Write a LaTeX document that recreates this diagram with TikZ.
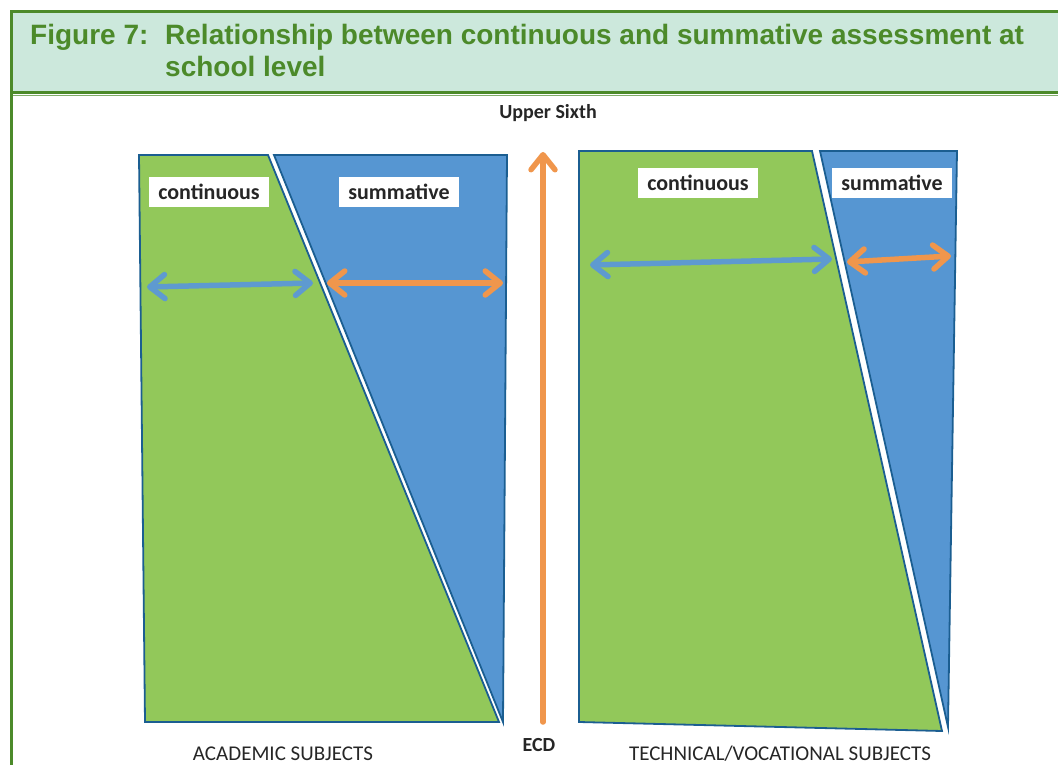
\documentclass[tikz,border=0pt]{standalone}
\usepackage{fontspec}
\setmainfont{Carlito}
\newfontfamily\titlefont{Liberation Sans}
\usetikzlibrary{arrows.meta}

\definecolor{framegreen}{HTML}{4C8A2A}
\definecolor{bandgreen}{HTML}{CCE8DC}
\definecolor{contgreen}{HTML}{92C85A}
\definecolor{summblue}{HTML}{5696D2}
\definecolor{edgeblue}{HTML}{1B5E91}
\definecolor{arrowblue}{HTML}{5E9AD0}
\definecolor{arroworange}{HTML}{F0964C}

\tikzset{
  panel/.style={draw=edgeblue,line width=1.8pt},
  tag/.style={fill=white,font=\bfseries\fontsize{22}{25}\selectfont,
    text=black!85,minimum width=120pt,minimum height=29pt,inner sep=0pt},
  span/.style={line width=5.5pt,line cap=round,
    {Straight Barb[round,length=15pt,width=24pt]}-{Straight Barb[round,length=15pt,width=24pt]}},
  caption/.style={font=\fontsize{21}{24}\selectfont,text=black!85},
  level/.style={font=\bfseries\fontsize{20}{23}\selectfont,text=black!85},
  heading/.style={font=\titlefont\bfseries\fontsize{28}{32}\selectfont,
    text=framegreen,inner sep=0pt,anchor=base west}
}

\begin{document}
\begin{tikzpicture}[x=1pt,y=-1pt]
  \useasboundingbox (0,0) rectangle (1058,765);

  % frame and title band
  \fill[bandgreen] (11,12) rectangle (1070,94);
  \draw[framegreen!70,line width=1pt] (11,95.5) -- (1070,95.5);
  \draw[framegreen,line width=3pt] (11,93) -- (1070,93);
  \draw[framegreen,line width=3pt] (11,800) -- (11,12) -- (1070,12);
  \node[heading] (fig) at (30,45) {Figure 7:};
  \node[heading] (title1) at (165,45) {Relationship between continuous and summative assessment at};
  \node[heading] (title2) at (165,77) {school level};

  % academic subjects
  \draw[panel,fill=contgreen] (139,155) -- (268,155) -- (499,722) -- (145,722) -- cycle;
  \draw[panel,fill=summblue] (274,155) -- (507,155) -- (503,722) -- cycle;
  \node[tag] (contL) at (209,192) {continuous};
  \node[tag] (summL) at (399,192) {summative};
  \coordinate (la) at (147,287);
  \coordinate (lb) at (313,283);
  \coordinate (lc) at (327,283);
  \coordinate (ld) at (503,283);
  \draw[span,arrowblue] (la) -- (lb);
  \draw[span,arroworange] (lc) -- (ld);
  \node[caption] (acad) at (283,754) {ACADEMIC SUBJECTS};

  % technical/vocational subjects
  \draw[panel,fill=contgreen] (579,151) -- (812,151) -- (942,731) -- (579,722) -- cycle;
  \draw[panel,fill=summblue] (820,151) -- (957,151) -- (948,727) -- cycle;
  \node[tag] (contR) at (698,183) {continuous};
  \node[tag] (summR) at (892,183) {summative};
  \coordinate (ra) at (590,265);
  \coordinate (rb) at (832,259);
  \coordinate (rc) at (847,262);
  \coordinate (rd) at (951,256);
  \draw[span,arrowblue] (ra) -- (rb);
  \draw[span,arroworange] (rc) -- (rd);
  \node[caption] (tech) at (780,754) {TECHNICAL/VOCATIONAL SUBJECTS};

  % school levels
  \node[level] (upper) at (548,113) {Upper Sixth};
  \node[level] (ecd) at (539,745) {ECD};
  \coordinate (low) at (543,722);
  \coordinate (high) at (543,152);
  \draw[arroworange,line width=5.5pt,line cap=round,
    -{Straight Barb[round,length=15pt,width=24pt]}] (low) -- (high);
\end{tikzpicture}
\end{document}
